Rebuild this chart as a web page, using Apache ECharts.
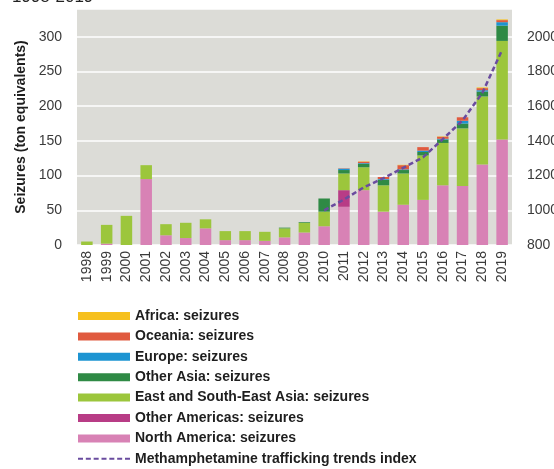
<!DOCTYPE html>
<html><head><meta charset="utf-8">
<script src="https://cdn.jsdelivr.net/npm/echarts@6/dist/echarts.min.js"></script>
<style>html,body{margin:0;padding:0;background:#fff}#c{width:554px;height:469px}</style>
</head><body><div id="c"></div>
<script>
var years = ['1998','1999','2000','2001','2002','2003','2004','2005','2006','2007','2008','2009','2010','2011','2012','2013','2014','2015','2016','2017','2018','2019'];
var northAmerica = [0,2,0,95,14,10,24,7,7,6,11,18,27,55,79,48,58,65,86,85,116,152];
var otherAmericas = [0,0,0,0,0,0,0,0,0,0,0,0,0,24,0,0,0,0,0,0,0,0];
var eastSouthEastAsia = [5,27,42,20,16,22,13,13,13,13,13,14,21,24,33,38,45,64,61,83,98,142];
var otherAsia = [0,0,0,0,0,0,0,0,0,0,1,1,19,5,5,8,5,5,5,7,7,22];
var europe = [0,0,0,0,0,0,0,0,0,0,0,0,0,2,1,1,1,2,1,4,2,5];
var oceania = [0,0,0,0,0,0,0,0,0,0,0,0,0,0.5,2,3,6,5,3,5,3,3];
var africa = [0,0,0,0,0,0,0,0,0,0,0,0,0,0,0.5,0,0.5,0,0.5,0,1,1];
var trendIndex = [null,null,null,null,null,null,null,null,null,null,null,null,1000,1062,1132,1185,1245,1305,1410,1518,1676,1924];
var leftTicks = {min:0, max:340, interval:50};
var rightTicks = {min:800, max:2160, interval:200};

var names = {
  af:'Africa: seizures', oc:'Oceania: seizures', eu:'Europe: seizures', oa:'Other Asia: seizures',
  es:'East and South-East Asia: seizures', am:'Other Americas: seizures', na:'North America: seizures',
  ix:'Methamphetamine trafficking trends index'
};
var colors = {af:'#f6c01e', oc:'#e05a3f', eu:'#1d94d2', oa:'#2f8a45', es:'#9cc63c', am:'#b83c86', na:'#d882b5', ix:'#6a4c9f'};
var FONT = 'Liberation Sans';
var dashIcon = 'path://M0,0h5v2h-5z M7.83,0h5v2h-5z M15.67,0h5v2h-5z M23.5,0h5v2h-5z M31.33,0h5v2h-5z M39.17,0h5v2h-5z M47,0h5v2h-5z';

function bar(key, data){
  return {name:names[key], type:'bar', stack:'s', data:data, barWidth:11.5,
    itemStyle:{color:colors[key]}, emphasis:{disabled:true}};
}
var chart = echarts.init(document.getElementById('c'), null, {renderer:'canvas'});
chart.setOption({
  animation:false,
  textStyle:{fontFamily:FONT},
  graphic:[{type:'text', left:12, top:-11, style:{text:'1998-2019', fontSize:17, fontFamily:FONT, fill:'#222'}}],
  grid:{left:77, right:42, top:9, bottom:224, show:true, backgroundColor:'#dcdcd7', borderWidth:0, outerBoundsMode:'none', containLabel:false},
  legend:{
    orient:'vertical', left:78, top:309, height:170, padding:0, itemWidth:52, itemHeight:8, itemGap:6.4,
    textStyle:{fontSize:14, fontWeight:'bold', color:'#1e1e1e', fontFamily:FONT, lineHeight:14},
    data:[
      {name:names.af, icon:'rect'},{name:names.oc, icon:'rect'},{name:names.eu, icon:'rect'},
      {name:names.oa, icon:'rect'},{name:names.es, icon:'rect'},{name:names.am, icon:'rect'},
      {name:names.na, icon:'rect'},
      {name:names.ix, icon:dashIcon, itemStyle:{color:colors.ix, borderWidth:0}}
    ]
  },
  xAxis:{type:'category', data:years,
    axisLine:{show:false}, axisTick:{show:false},
    axisLabel:{rotate:90, fontSize:14, color:'#3a3a3a', margin:6, interval:0}},
  yAxis:[
    {type:'value', min:leftTicks.min, max:leftTicks.max, interval:leftTicks.interval,
      name:'Seizures (ton equivalents)', nameLocation:'middle', nameGap:49,
      nameTextStyle:{fontSize:14, fontWeight:'bold', color:'#1e1e1e'},
      axisLine:{show:false}, axisTick:{show:false},
      axisLabel:{fontSize:14, color:'#3a3a3a', margin:15, showMaxLabel:false},
      splitLine:{lineStyle:{color:'#ffffff', width:1.5}}},
    {type:'value', min:rightTicks.min, max:rightTicks.max, interval:rightTicks.interval,
      axisLine:{show:false}, axisTick:{show:false}, splitLine:{show:false},
      axisLabel:{fontSize:14, color:'#3a3a3a', margin:15, showMaxLabel:false, formatter:function(v){return String(v);}}}
  ],
  series:[
    bar('na', northAmerica), bar('am', otherAmericas), bar('es', eastSouthEastAsia),
    bar('oa', otherAsia), bar('eu', europe), bar('oc', oceania), bar('af', africa),
    {name:names.ix, type:'line', yAxisIndex:1, data:trendIndex, symbol:'none', z:10,
      lineStyle:{color:colors.ix, width:2.5, type:[5,3]}, itemStyle:{color:colors.ix}}
  ]
});
</script></body></html>
